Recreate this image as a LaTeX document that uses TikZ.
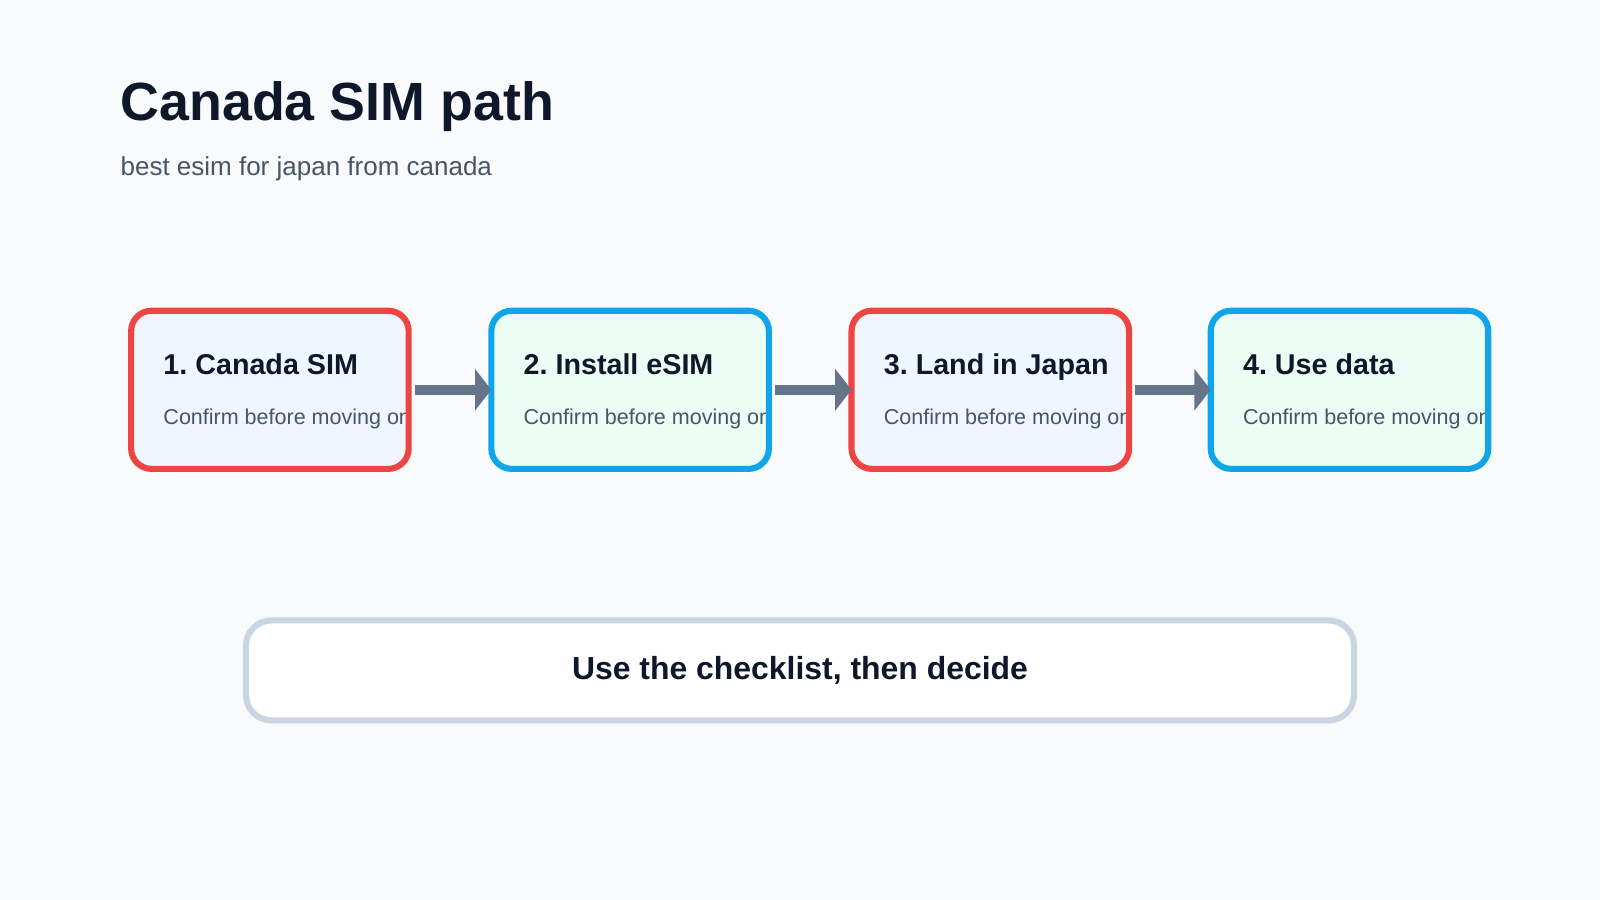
\documentclass[tikz,border=0pt]{standalone}
\usepackage{fontspec}
\setmainfont{Liberation Sans}
\frenchspacing
\usetikzlibrary{arrows.meta}
\definecolor{bg}{HTML}{F8FAFC}
\definecolor{ink}{HTML}{0F172A}
\definecolor{sub}{HTML}{475569}
\definecolor{rd}{HTML}{EF4444}
\definecolor{bl}{HTML}{0EA5E9}
\definecolor{fa}{HTML}{EFF6FF}
\definecolor{fb}{HTML}{ECFDF5}
\definecolor{ar}{HTML}{64748B}
\definecolor{gb}{HTML}{CBD5E1}
\tikzset{
  stepbox/.style={draw=#1, line width=6*0.02cm, rounded corners=0.4cm, minimum width=272*0.02cm, minimum height=155*0.02cm, inner sep=0pt, outer sep=0pt},
  steptitle/.style={anchor=base west, font=\bfseries\fontsize{16}{18}\selectfont, text=ink},
  stepnote/.style={anchor=base west, font=\fontsize{12}{14}\selectfont, text=sub},
  flow/.style={draw=ar, line width=10*0.02cm, -{Triangle[length=16*0.02cm,width=40*0.02cm]}}
}
\begin{document}
\begin{tikzpicture}[x=0.02cm,y=-0.02cm]
\fill[bg] (0,0) rectangle (1568,882);
\useasboundingbox (0,0) rectangle (1568,882);
\node[anchor=base west, font=\bfseries\fontsize{30}{34}\selectfont, text=ink] (title) at (112,118) {Canada SIM path};
\node[anchor=base west, font=\fontsize{14.5}{17}\selectfont, text=sub] (subtitle) at (112,172) {best esim for japan from canada};
\foreach \i/\x/\c/\f/\t in {1/127/rd/fa/{1. Canada SIM},2/480/bl/fb/{2. Install eSIM},3/833/rd/fa/{3. Land in Japan},4/1185/bl/fb/{4. Use data}}{
  \fill[\f, rounded corners=0.4cm] (\x,303) rectangle ++(275,158);
  \begin{scope}
    \clip (\x,303) rectangle ++(277,158);
    \node[steptitle] (t\i) at (\x+27,367) {\t};
    \node[stepnote] (n\i) at (\x+27,416) {Confirm before moving on};
  \end{scope}
  \node[stepbox=\c] (b\i) at (\x+137.5,382) {};
}
\draw[flow] ([xshift=6*0.02cm]b1.east) -- (b2.west);
\draw[flow] ([xshift=6*0.02cm]b2.east) -- (b3.west);
\draw[flow] ([xshift=6*0.02cm]b3.east) -- (b4.west);
\node[draw=gb, fill=white, line width=6*0.02cm, rounded corners=0.5cm, minimum width=1086*0.02cm, minimum height=98*0.02cm, outer sep=0pt, font=\bfseries\fontsize{17.8}{20}\selectfont, text=ink] (note) at (784,657) {Use the checklist, then decide};
\end{tikzpicture}
\end{document}
